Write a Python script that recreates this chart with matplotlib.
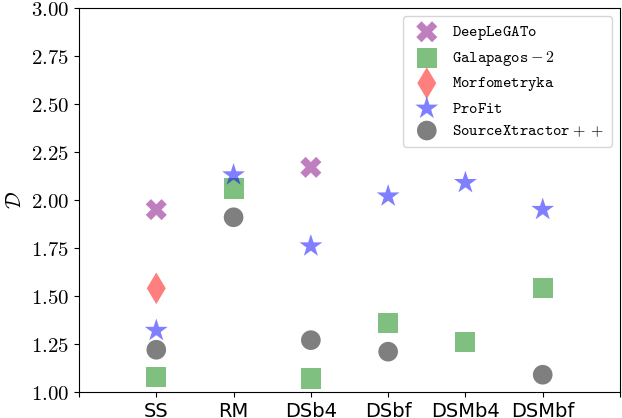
import numpy as np
import matplotlib
matplotlib.use('Agg')
import matplotlib.pyplot as plt
from matplotlib.ticker import FuncFormatter

plt.rcParams['mathtext.fontset'] = 'cm'

categories = ['SS', 'RM', 'DSb4', 'DSbf', 'DSMb4', 'DSMbf']
nan = np.nan
deeplegato = [1.95, nan, 2.17, nan, nan, nan]
galapagos = [1.08, 2.06, 1.07, 1.36, 1.26, 1.54]
morfometryka = [1.54, nan, nan, nan, nan, nan]
profit = [1.32, 2.13, 1.76, 2.02, 2.09, 1.95]
sourcextractor = [1.22, 1.91, 1.27, 1.21, nan, 1.09]

series = [
    (deeplegato, r'$\mathtt{DeepLeGATo}$', 'purple', 'X', 230),
    (galapagos, r'$\mathtt{Galapagos-2}$', 'green', 's', 210),
    (morfometryka, r'$\mathtt{Morfometryka}$', 'red', 'd', 260),
    (profit, r'$\mathtt{ProFit}$', 'blue', '*', 300),
    (sourcextractor, r'$\mathtt{SourceXtractor++}$', 'black', 'o', 200),
]

fig = plt.figure(figsize=(6.22, 4.18), dpi=100)
ax = fig.add_subplot(111)
fig.subplots_adjust(left=79/622, right=620/622, top=1-8/418, bottom=1-392/418)

x = np.arange(len(categories))
for vals, lab, col, mk, sz in series:
    ax.scatter(x, vals, c=col, marker=mk, s=sz, alpha=0.5, label=lab, edgecolors='none')

ax.set_xlim(-1, len(categories))
ax.set_xticks(np.arange(-1, len(categories) + 1))
ax.set_xticklabels([''] + categories + [''], fontsize=14)
ax.set_ylim(1.0, 3.0)
ax.set_yticks(np.arange(1.0, 3.01, 0.25))
ax.yaxis.set_major_formatter(FuncFormatter(lambda v, p: r'$%.2f$' % v))
ax.tick_params(axis='y', labelsize=15)
ax.set_ylabel(r'$\mathcal{D}$', fontsize=15)

ax.legend(loc='upper right', fontsize=11.5, borderpad=0.5, labelspacing=0.45,
          handletextpad=0.6)

fig.savefig('out.png', dpi=100)
